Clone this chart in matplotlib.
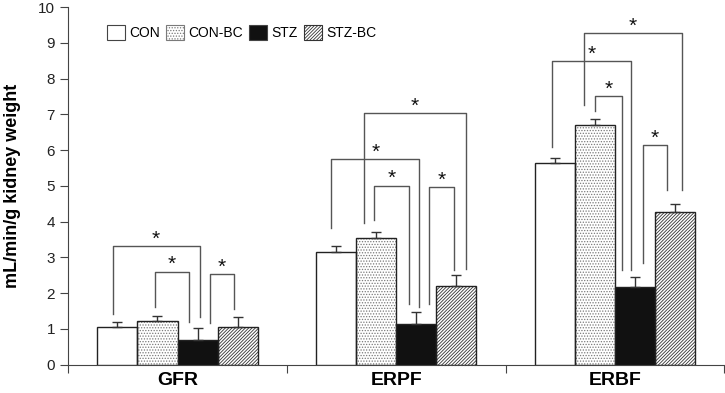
import matplotlib
matplotlib.use("Agg")
import matplotlib.pyplot as plt
import numpy as np
from matplotlib.patches import Patch

plt.rcParams["font.family"] = ["Liberation Sans", "DejaVu Sans"]
plt.rcParams["hatch.linewidth"] = 0.6

groups = ["GFR", "ERPF", "ERBF"]
series = ["CON", "CON-BC", "STZ", "STZ-BC"]
means = {
    "CON": [1.05, 3.16, 5.63],
    "CON-BC": [1.21, 3.54, 6.70],
    "STZ": [0.69, 1.15, 2.16],
    "STZ-BC": [1.05, 2.19, 4.26],
}
errors = {
    "CON": [0.15, 0.17, 0.16],
    "CON-BC": [0.16, 0.16, 0.16],
    "STZ": [0.34, 0.31, 0.28],
    "STZ-BC": [0.27, 0.33, 0.24],
}

# significance brackets: group, bar a, bar b, top, left leg bottom, right leg bottom,
# leg offsets from bar centres (in bar widths)
brackets = [
    (0, 0, 2, 3.32, 1.42, 1.34, -0.12, 0.05),
    (0, 1, 2, 2.60, 1.61, 1.20, -0.07, -0.21),
    (0, 2, 3, 2.54, 1.16, 1.56, 0.30, -0.10),
    (1, 0, 2, 5.74, 3.81, 1.62, -0.12, 0.07),
    (1, 1, 3, 7.04, 3.95, 2.69, -0.31, 0.25),
    (1, 1, 2, 5.01, 4.04, 1.70, -0.06, -0.19),
    (1, 2, 3, 4.97, 1.70, 2.65, 0.33, -0.06),
    (2, 0, 2, 8.49, 6.09, 2.65, -0.06, -0.10),
    (2, 1, 3, 9.27, 7.25, 4.88, -0.27, 0.17),
    (2, 1, 2, 7.51, 7.09, 2.66, 0.00, -0.32),
    (2, 2, 3, 6.15, 2.83, 4.88, 0.19, -0.19),
]

styles = {
    "CON": dict(facecolor="white", hatch=None, hatchcolor=None),
    "CON-BC": dict(facecolor="white", hatch="......", hatchcolor="#7a7a7a"),
    "STZ": dict(facecolor="#111111", hatch=None, hatchcolor=None),
    "STZ-BC": dict(facecolor="white", hatch="//////////", hatchcolor="#333333"),
}

width = 0.183
centers = np.arange(len(groups)) + 0.5

fig = plt.figure(figsize=(7.25, 3.93), dpi=100)
ax = fig.add_axes([0.094, 0.072, 0.905, 0.91])

def bar_x(i):
    return centers + (i - 1.5) * width

for i, name in enumerate(series):
    st = styles[name]
    x = bar_x(i)
    if st["hatch"]:
        ax.bar(x, means[name], width, color=st["facecolor"], edgecolor=st["hatchcolor"],
               hatch=st["hatch"], linewidth=0, zorder=2)
        ax.bar(x, means[name], width, fill=False, edgecolor="#222222", linewidth=1.0, zorder=3)
    else:
        ax.bar(x, means[name], width, color=st["facecolor"], edgecolor="#222222",
               linewidth=1.0, zorder=3)
    ax.errorbar(x, means[name], yerr=[np.zeros(3), errors[name]], fmt="none",
                ecolor="#333333", elinewidth=1.0, capsize=3.5, capthick=1.0, zorder=4)

for g, a, b, top, lb, rb, dl, dr in brackets:
    xl = centers[g] + (a - 1.5) * width + dl * width
    xr = centers[g] + (b - 1.5) * width + dr * width
    ax.plot([xl, xl, xr, xr], [lb, top, top, rb], color="#555555", lw=1.0, zorder=1)
    ax.text((xl + xr) / 2, top + 0.04, "*", ha="center", va="baseline",
            fontsize=15, color="#111111")

handles = []
for name in series:
    st = styles[name]
    if st["hatch"]:
        handles.append(Patch(facecolor="white", edgecolor=st["hatchcolor"],
                             hatch=st["hatch"], linewidth=0.8))
    else:
        handles.append(Patch(facecolor=st["facecolor"], edgecolor="#444444", linewidth=0.8))
ax.legend(handles, series, loc="upper left", bbox_to_anchor=(0.04, 0.985), ncol=4,
          frameon=False, fontsize=10, handlelength=1.3, handleheight=1.3,
          handletextpad=0.3, columnspacing=0.45)

ax.set_xlim(0, 3)
ax.set_ylim(0, 10)
ax.set_yticks(range(0, 11))
ax.set_xticks([0, 1, 2, 3])
ax.set_xticklabels([])
ax.set_xticks(centers, minor=True)
ax.set_xticklabels(groups, minor=True, fontsize=14, fontweight="bold")
ax.tick_params(axis="x", which="minor", length=0, pad=5)
ax.tick_params(axis="x", which="major", length=6, direction="out", color="#444444")
ax.tick_params(axis="y", length=6, direction="out", labelsize=11, color="#444444",
               labelcolor="#222222")
ax.set_ylabel("mL/min/g kidney weight", fontsize=13, fontweight="bold", labelpad=12)
for s in ["top", "right"]:
    ax.spines[s].set_visible(False)
for s in ["left", "bottom"]:
    ax.spines[s].set_color("#444444")

fig.savefig("out.png", dpi=100)
